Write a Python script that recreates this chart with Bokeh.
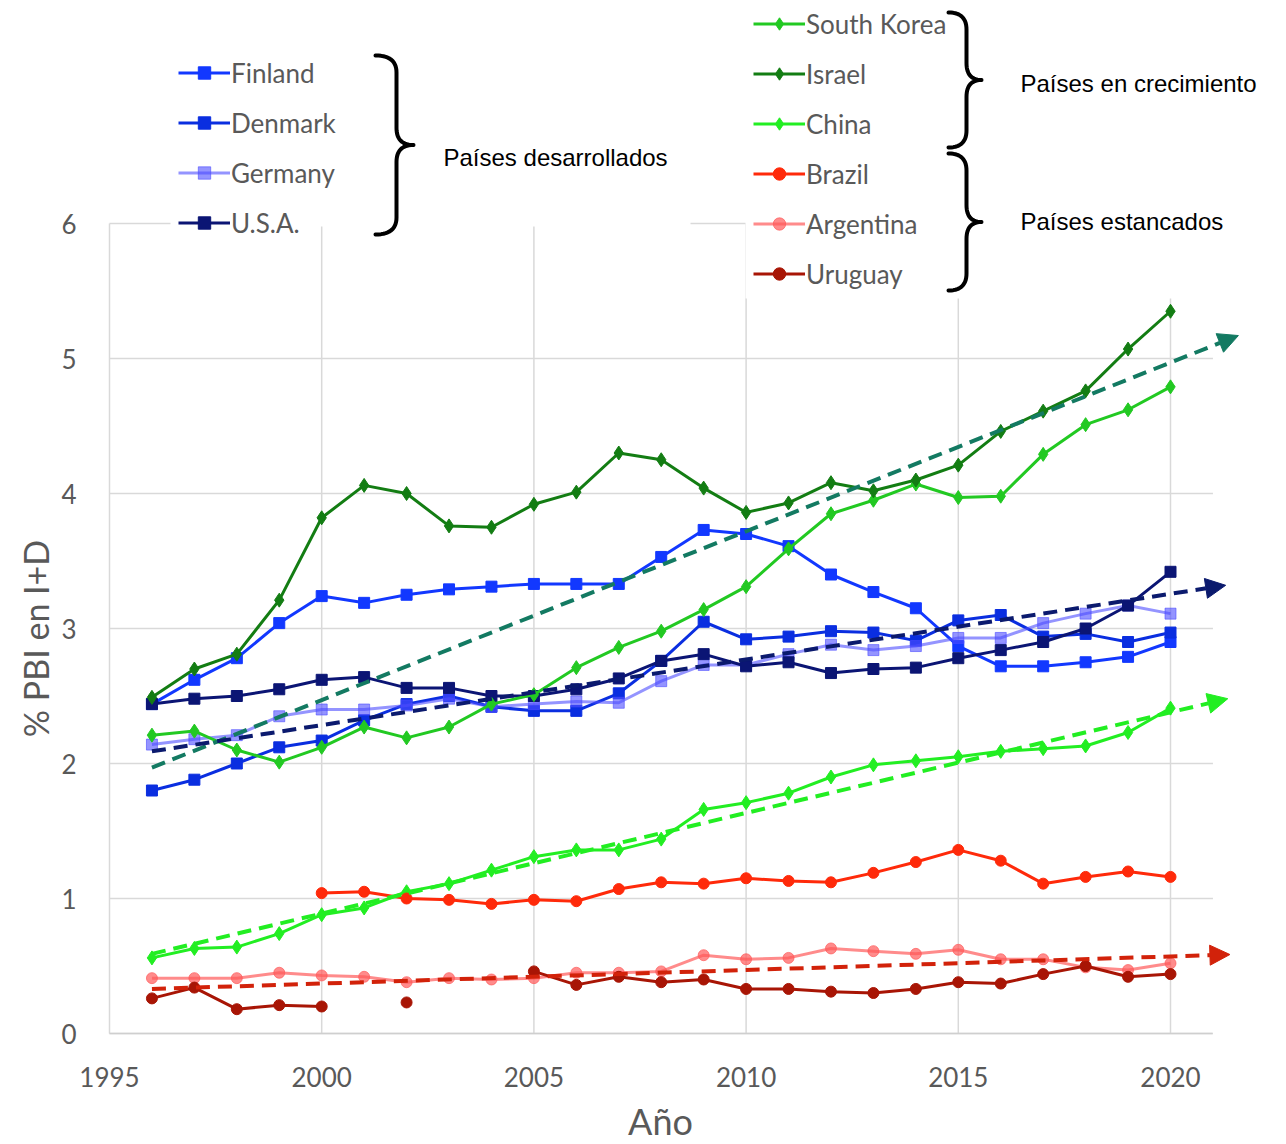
import math
from bokeh.plotting import figure
from bokeh.models import (Range1d, FixedTicker, Legend, LegendItem, Label, BoxAnnotation,
                          PolyAnnotation, Arrow, NormalHead)
from bokeh.embed import file_html
from bokeh.resources import INLINE

nan = float("nan")

# ---------------- data ----------------
years = list(range(1996, 2021))

finland = [2.44, 2.62, 2.78, 3.04, 3.24, 3.19, 3.25, 3.29, 3.31, 3.33, 3.33, 3.33, 3.53,
           3.73, 3.70, 3.61, 3.40, 3.27, 3.15, 2.87, 2.72, 2.72, 2.75, 2.79, 2.90]
denmark = [1.80, 1.88, 2.00, 2.12, 2.17, 2.32, 2.44, 2.50, 2.42, 2.39, 2.39, 2.52, 2.76,
           3.05, 2.92, 2.94, 2.98, 2.97, 2.91, 3.06, 3.10, 2.94, 2.96, 2.90, 2.97]
germany = [2.14, 2.18, 2.21, 2.35, 2.40, 2.40, 2.43, 2.48, 2.42, 2.44, 2.46, 2.45, 2.61,
           2.73, 2.73, 2.81, 2.88, 2.84, 2.87, 2.93, 2.93, 3.04, 3.11, 3.17, 3.11]
usa = [2.44, 2.48, 2.50, 2.55, 2.62, 2.64, 2.56, 2.56, 2.50, 2.50, 2.55, 2.63, 2.76,
       2.81, 2.72, 2.75, 2.67, 2.70, 2.71, 2.78, 2.84, 2.90, 3.00, 3.17, 3.42]
south_korea = [2.21, 2.24, 2.10, 2.01, 2.12, 2.27, 2.19, 2.27, 2.44, 2.51, 2.71, 2.86, 2.98,
               3.14, 3.31, 3.59, 3.85, 3.95, 4.07, 3.97, 3.98, 4.29, 4.51, 4.62, 4.79]
israel = [2.49, 2.70, 2.81, 3.21, 3.82, 4.06, 4.00, 3.76, 3.75, 3.92, 4.01, 4.30, 4.25,
          4.04, 3.86, 3.93, 4.08, 4.02, 4.10, 4.21, 4.46, 4.61, 4.76, 5.07, 5.35]
china = [0.56, 0.63, 0.64, 0.74, 0.88, 0.93, 1.05, 1.11, 1.21, 1.31, 1.36, 1.36, 1.44,
         1.66, 1.71, 1.78, 1.90, 1.99, 2.02, 2.05, 2.09, 2.11, 2.13, 2.23, 2.41]
brazil = [nan, nan, nan, nan, 1.04, 1.05, 1.00, 0.99, 0.96, 0.99, 0.98, 1.07, 1.12,
          1.11, 1.15, 1.13, 1.12, 1.19, 1.27, 1.36, 1.28, 1.11, 1.16, 1.20, 1.16]
argentina = [0.41, 0.41, 0.41, 0.45, 0.43, 0.42, 0.38, 0.41, 0.40, 0.41, 0.45, 0.45, 0.46,
             0.58, 0.55, 0.56, 0.63, 0.61, 0.59, 0.62, 0.55, 0.55, 0.49, 0.47, 0.52]
uruguay = [0.26, 0.34, 0.18, 0.21, 0.20, nan, 0.23, nan, nan, 0.46, 0.36, 0.42, 0.38,
           0.40, 0.33, 0.33, 0.31, 0.30, 0.33, 0.38, 0.37, 0.44, 0.50, 0.42, 0.44]

# trend arrows (start / end points)
trend_x0 = [1996, 1996, 1996, 1996]
trend_y0 = [1.97, 2.09, 0.59, 0.33]
trend_x1 = [2021.6, 2021.3, 2021.35, 2021.4]
trend_y1 = [5.17, 3.32, 2.48, 0.585]

x_ticks = [1995, 2000, 2005, 2010, 2015, 2020]
y_ticks = [0, 1, 2, 3, 4, 5, 6]
x_bounds = (1995, 2021)
y_bounds = (0, 6)

x_title = "Año"
y_title = "% PBI en I+D"
group_labels = ["Países desarrollados", "Países en crecimiento", "Países estancados"]

# ---------------- styles / layout ----------------
series = [
    # name, values, color, alpha, marker
    ("Finland", finland, "#1238ff", 1.0, "square"),
    ("Denmark", denmark, "#0a2ee0", 1.0, "square"),
    ("Germany", germany, "#4d4dff", 0.6, "square"),
    ("U.S.A.", usa, "#0b1574", 1.0, "square"),
    ("South Korea", south_korea, "#22c922", 1.0, "diamond"),
    ("Israel", israel, "#137d13", 1.0, "diamond"),
    ("China", china, "#22ee22", 1.0, "diamond"),
    ("Brazil", brazil, "#ff2a0a", 1.0, "circle"),
    ("Argentina", argentina, "#ff5a5a", 0.7, "circle"),
    ("Uruguay", uruguay, "#a81505", 1.0, "circle"),
]
trend_colors = ["#137a62", "#0b1a6e", "#22ee22", "#d2220a"]
msize = {"square": 11, "diamond": 14, "circle": 11}

W, H = 1280, 1142            # the frame covers the whole canvas
PX_YEAR, PX_UNIT = 42.44, 135.0
X0_PX, Y0_PX = 109, 1033     # canvas pixel of (1995, 0)
x_start = x_bounds[0] - X0_PX / PX_YEAR
y_start = -(H - Y0_PX) / PX_UNIT

def sx(px):
    return px
def sy(py):
    return H - py

p = figure(frame_width=W, frame_height=H,
           x_range=Range1d(x_start, x_start + W / PX_YEAR),
           y_range=Range1d(y_start, y_start + H / PX_UNIT),
           min_border=0, output_backend="svg", toolbar_location=None)
p.outline_line_color = None
p.background_fill_color = "white"
p.xgrid.visible = False
p.ygrid.visible = False

# axes (drawn at fixed data locations inside the frame)
for ax in (p.xaxis[0], p.yaxis[0]):
    ax.major_tick_out = 0
    ax.major_tick_in = 0
    ax.minor_tick_out = 0
    ax.minor_tick_in = 0
    ax.major_label_text_font = "Lato"
    ax.major_label_text_font_size = "26px"
    ax.major_label_text_color = "#595959"

p.xaxis.ticker = FixedTicker(ticks=x_ticks)
p.xaxis.bounds = x_bounds
p.xaxis.fixed_location = y_bounds[0]
p.xaxis.axis_line_color = "#cfcfcf"
p.xaxis.axis_line_width = 1.5
p.xaxis.major_label_standoff = 33

p.yaxis.ticker = FixedTicker(ticks=y_ticks)
p.yaxis.bounds = y_bounds
p.yaxis.fixed_location = x_bounds[0]
p.yaxis.axis_line_color = None
p.yaxis.major_label_standoff = 33

# grid lines limited to the axis extents
p.segment(x0=[x_bounds[0]] * len(y_ticks), x1=[x_bounds[1]] * len(y_ticks), y0=y_ticks, y1=y_ticks,
          line_color="#d9d9d9", line_width=1.5, level="underlay")
p.segment(x0=x_ticks, x1=x_ticks, y0=[y_bounds[0]] * len(x_ticks), y1=[y_bounds[1]] * len(x_ticks),
          line_color="#d9d9d9", line_width=1.5, level="underlay")

items = {}
for name, vals, col, alpha, marker in series:
    lr = p.line(years, vals, line_color=col, line_alpha=alpha, line_width=3)
    sr = p.scatter(years, vals, marker=marker, size=msize[marker], fill_color=col,
                   line_color=col, fill_alpha=alpha, line_alpha=alpha)
    items[name] = LegendItem(label=name, renderers=[lr, sr])

# axis titles
p.add_layout(Label(x=sx(660), y=sy(1120), x_units="screen", y_units="screen", text=x_title,
                   text_font="Lato", text_font_size="36px", text_color="#595959",
                   text_align="center", text_baseline="middle"))
p.add_layout(Label(x=sx(35), y=sy(638), x_units="screen", y_units="screen", text=y_title,
                   angle=math.pi / 2, text_font="Lato", text_font_size="34px",
                   text_color="#595959", text_align="center", text_baseline="middle"))

# white cover boxes behind the legend areas
p.add_layout(BoxAnnotation(left=sx(170), right=sx(690), top=sy(40), bottom=sy(226),
                           left_units="screen", right_units="screen",
                           top_units="screen", bottom_units="screen",
                           fill_color="white", fill_alpha=1, line_color=None))
p.add_layout(BoxAnnotation(left=sx(745), right=sx(1286), top=sy(0), bottom=sy(298),
                           left_units="screen", right_units="screen",
                           top_units="screen", bottom_units="screen",
                           fill_color="white", fill_alpha=1, line_color=None))

# braces
def brace_points(x_end, x_body, x_tip, y_top, y_bot, r=17, n=14):
    y_mid = (y_top + y_bot) / 2
    pts = []
    def quad(p0, c, p1):
        for i in range(n + 1):
            t = i / n
            x = (1 - t) ** 2 * p0[0] + 2 * (1 - t) * t * c[0] + t * t * p1[0]
            y = (1 - t) ** 2 * p0[1] + 2 * (1 - t) * t * c[1] + t * t * p1[1]
            pts.append((x, y))
    quad((x_end, y_top), (x_body, y_top), (x_body, y_top + r))
    quad((x_body, y_mid - r), (x_body, y_mid), (x_tip, y_mid))
    quad((x_tip, y_mid), (x_body, y_mid), (x_body, y_mid + r))
    quad((x_body, y_bot - r), (x_body, y_bot), (x_end, y_bot))
    pts = pts + pts[::-1]
    return [sx(a) for a, b in pts], [sy(b) for a, b in pts]

for geo in [(375, 396, 413, 55, 234), (948, 966, 981, 12, 147), (948, 966, 981, 153, 290)]:
    bx, by = brace_points(*geo)
    p.add_layout(PolyAnnotation(xs=bx, ys=by, xs_units="screen", ys_units="screen",
                                fill_color=None, fill_alpha=0, line_color="black",
                                line_alpha=1.0, line_width=4, line_join="round"))

# group labels
for txt, (px, py) in zip(group_labels, [(443, 157), (1020, 83), (1020, 221)]):
    p.add_layout(Label(x=sx(px), y=sy(py), x_units="screen", y_units="screen", text=txt,
                       text_font="Liberation Sans", text_font_size="24px",
                       text_color="black", text_baseline="middle", text_align="left"))

# legends
def make_legend(names, loc):
    return Legend(items=[items[n] for n in names], location=loc, orientation="vertical",
                  label_text_font="Lato", label_text_font_size="26px",
                  label_text_color="#595959", glyph_width=52, glyph_height=31,
                  label_height=31, spacing=18, padding=0, margin=0, label_standoff=1,
                  border_line_color=None, background_fill_alpha=0)

p.add_layout(make_legend(["Finland", "Denmark", "Germany", "U.S.A."], (sx(178), sy(238.5))))
p.add_layout(make_legend(["South Korea", "Israel", "China", "Brazil", "Argentina", "Uruguay"],
                         (sx(753), sy(289.5))))

# trend arrows
for i, col in enumerate(trend_colors):
    p.add_layout(Arrow(end=NormalHead(size=20, fill_color=col, line_color=col),
                       x_start=trend_x0[i], y_start=trend_y0[i],
                       x_end=trend_x1[i], y_end=trend_y1[i],
                       line_color=col, line_width=4, line_dash="14 8"))

open("out.html", "w").write(file_html(p, INLINE))
